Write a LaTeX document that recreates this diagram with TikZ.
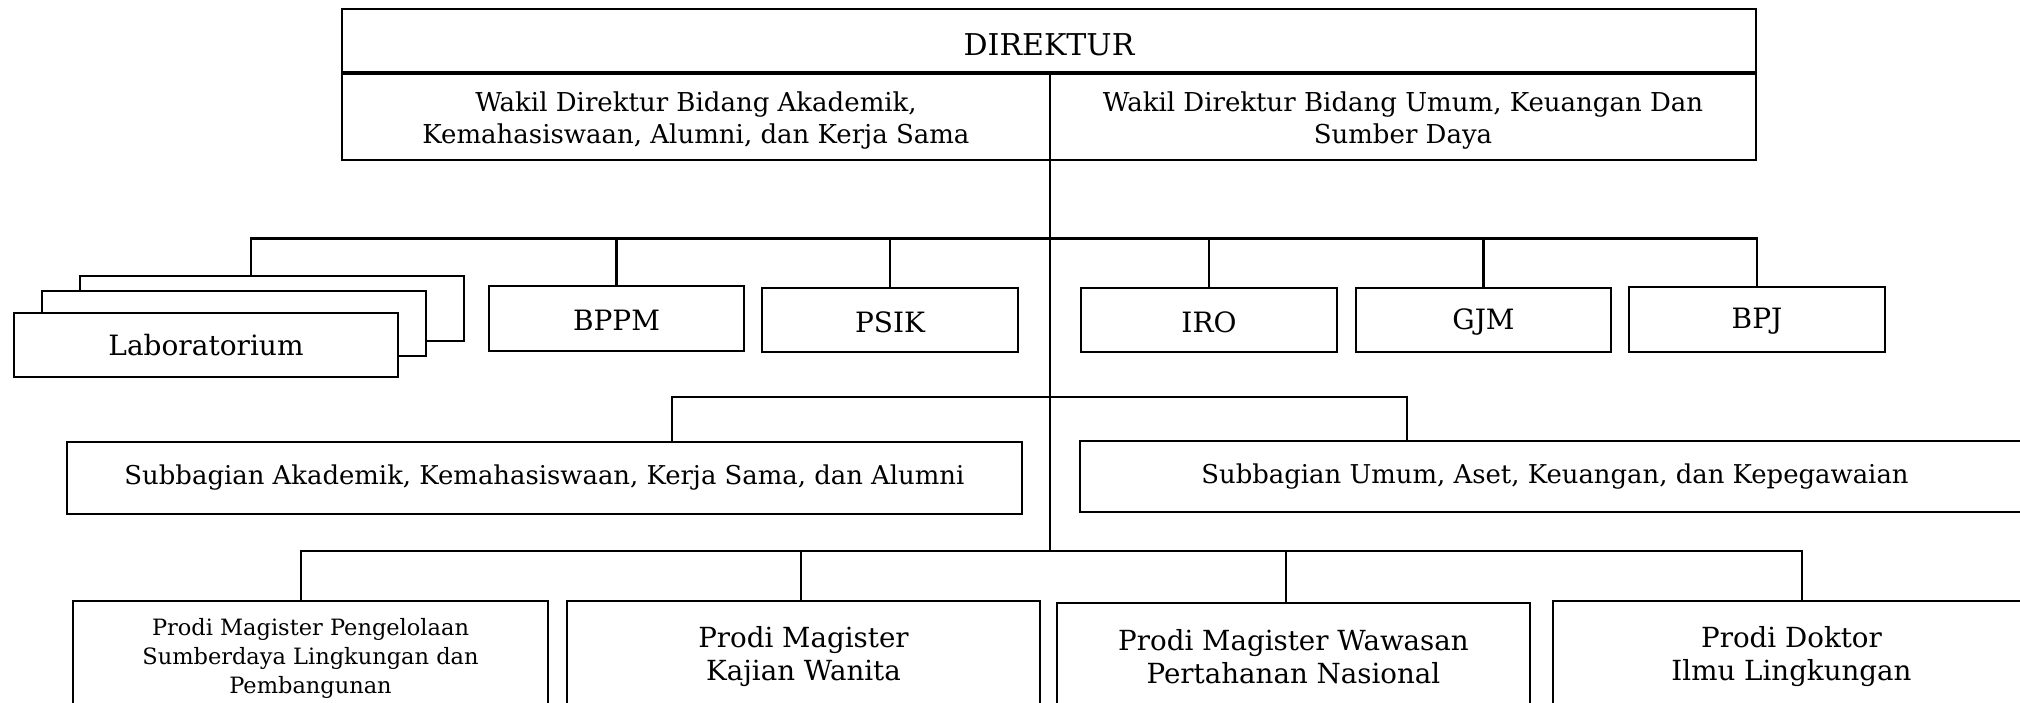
\documentclass[tikz,border=0pt]{standalone}
\usepackage{fontspec}
\setmainfont{DejaVu Serif}
\begin{document}
\begin{tikzpicture}[x=1pt,y=-1pt,
  box/.style={draw, line width=2.6pt, inner sep=0pt, outer sep=0pt, align=center, fill=white},
  lbl/.style={inner sep=0pt, outer sep=0pt, align=center},
  conn/.style={line width=2.2pt},
  fdir/.style={font=\fontsize{30}{36}\selectfont},
  fwak/.style={font=\fontsize{26}{32}\selectfont},
  funit/.style={font=\fontsize{28}{34}\selectfont},
  fsub/.style={font=\fontsize{25.9}{33}\selectfont},
  fsmall/.style={font=\fontsize{22.5}{28.7}\selectfont},
  fprodi/.style={font=\fontsize{27.7}{33.5}\selectfont},
]
\useasboundingbox (0,0) rectangle (2020,702);
\clip (0,0) rectangle (2020,702);

% bus coordinates
\coordinate (j3) at (1050,551);
\coordinate (b1L) at (251,238.5);
\coordinate (b1R) at (1757,238.5);
\coordinate (b2L) at (672,397);
\coordinate (b2R) at (1407,397);
\coordinate (b3a) at (301,551);
\coordinate (b3b) at (801,551);
\coordinate (b3c) at (1286,551);
\coordinate (b3d) at (1802,551);

% top block
\node[box, minimum width=1414pt, minimum height=64pt] (dir) at (1049,41) {};
\node[box, minimum width=708pt, minimum height=87pt] (wakA) at (696,116.5) {};
\node[box, minimum width=706pt, minimum height=87pt] (wakB) at (1403,116.5) {};
\draw[line width=3.8pt] (dir.south west) -- (dir.south east);
\node[lbl, fdir, yshift=-4pt] (dirT) at (dir) {DIREKTUR};
\node[lbl, fwak, yshift=-4pt] (wakAT) at (wakA)
  {Wakil Direktur Bidang Akademik,\\Kemahasiswaan, Alumni, dan Kerja Sama};
\node[lbl, fwak, yshift=-4pt] (wakBT) at (wakB)
  {Wakil Direktur Bidang Umum, Keuangan Dan\\Sumber Daya};

% units row
\node[box, minimum width=384pt, minimum height=65pt] (lab3) at (272,308.5) {};
\node[box, minimum width=384pt, minimum height=65pt] (lab2) at (234,323.5) {};
\node[box, minimum width=384pt, minimum height=64pt] (lab1) at (206,345) {};
\node[box, minimum width=255pt, minimum height=65pt] (bppm) at (616.5,318.5) {};
\node[box, minimum width=256pt, minimum height=64pt] (psik) at (890,320) {};
\node[box, minimum width=256pt, minimum height=64pt] (iro) at (1209,320) {};
\node[box, minimum width=255pt, minimum height=64pt] (gjm) at (1483.5,320) {};
\node[box, minimum width=256pt, minimum height=65pt] (bpj) at (1757,319.5) {};
\node[lbl, funit] (lab1T) at (lab1) {Laboratorium};
\node[lbl, funit, yshift=-2pt] (bppmT) at (bppm) {BPPM};
\node[lbl, funit, yshift=-2pt] (psikT) at (psik) {PSIK};
\node[lbl, funit, yshift=-2pt] (iroT) at (iro) {IRO};
\node[lbl, funit, yshift=-2pt] (gjmT) at (gjm) {GJM};
\node[lbl, funit, yshift=-2pt] (bpjT) at (bpj) {BPJ};

% subbagian row
\node[box, fsub, minimum width=955pt, minimum height=72pt] (subA) at (544.5,478)
  {Subbagian Akademik, Kemahasiswaan, Kerja Sama, dan Alumni};
\node[box, fsub, minimum width=950pt, minimum height=71pt] (subU) at (1555,476.5)
  {Subbagian Umum, Aset, Keuangan, dan Kepegawaian};

% prodi row
\node[box, minimum width=475pt, minimum height=111pt] (prodi1) at (310.5,656.5) {};
\node[box, minimum width=473pt, minimum height=107pt] (prodi2) at (803.5,654.5) {};
\node[box, minimum width=473pt, minimum height=103pt] (prodi3) at (1293.5,654.5) {};
\node[box, minimum width=477pt, minimum height=107pt] (prodi4) at (1791.5,654.5) {};
\node[lbl, fsmall, yshift=-2pt] (prodi1T) at (prodi1)
  {Prodi Magister Pengelolaan\\Sumberdaya Lingkungan dan\\Pembangunan};
\node[lbl, fprodi, yshift=-2pt] (prodi2T) at (prodi2) {Prodi Magister\\Kajian Wanita};
\node[lbl, fprodi, yshift=-2pt] (prodi3T) at (prodi3) {Prodi Magister Wawasan\\Pertahanan Nasional};
\node[lbl, fprodi, yshift=-2pt] (prodi4T) at (prodi4) {Prodi Doktor\\Ilmu Lingkungan};

% connectors
\draw[conn] (wakA.south east) -- (j3);
\draw[conn] (b1L |- lab3.north) -- (b1L) -- (b1R) -- (bpj.north);
\foreach \n in {bppm,psik,iro,gjm} \draw[conn] (\n.north) -- (\n.north |- b1L);
\draw[conn] (b2L |- subA.north) -- (b2L) -- (b2R) -- (b2R |- subU.north);
\draw[conn] (b3a |- prodi1.north) -- (b3a) -- (b3d) -- (b3d |- prodi4.north);
\draw[conn] (b3b) -- (b3b |- prodi2.north);
\draw[conn] (b3c) -- (b3c |- prodi3.north);
\end{tikzpicture}
\end{document}
